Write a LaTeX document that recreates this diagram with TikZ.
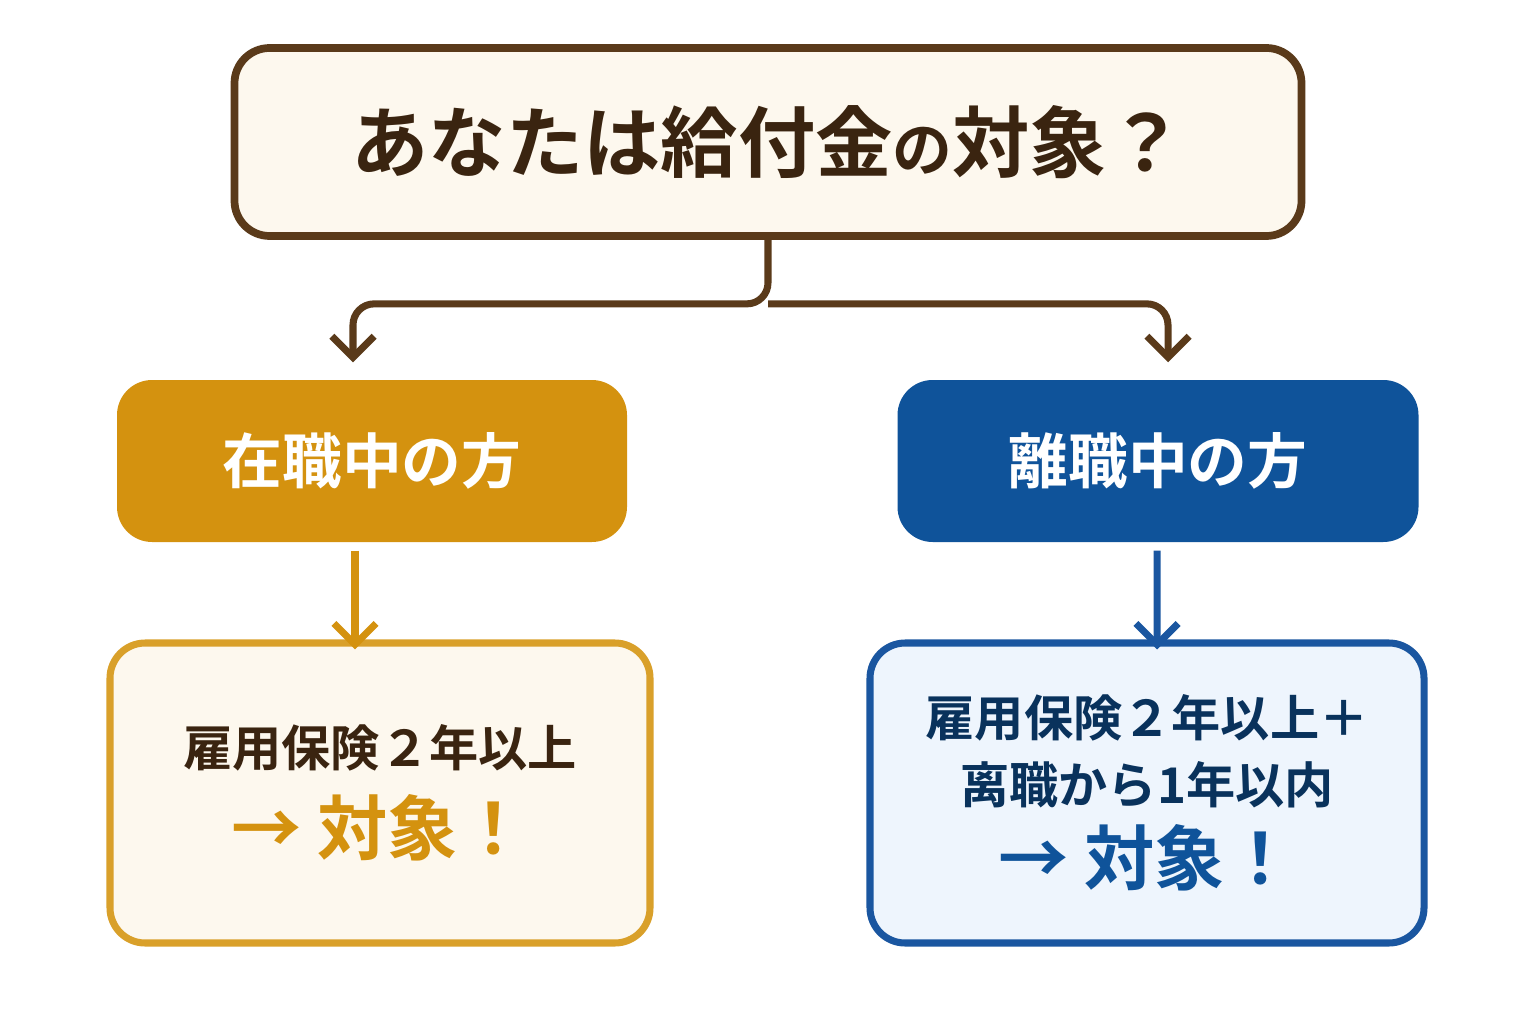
\documentclass[tikz,border=0pt]{standalone}
\usepackage{fontspec}
\newfontfamily\cjk{Noto Sans CJK JP}[BoldFont={Noto Sans CJK JP Bold}]
\usetikzlibrary{positioning,arrows.meta,calc}
\definecolor{brownline}{HTML}{5A3A1A}
\definecolor{cream}{HTML}{FDF8EE}
\definecolor{gold}{HTML}{D4920F}
\definecolor{goldline}{HTML}{D9A02A}
\definecolor{navy}{HTML}{0F539A}
\definecolor{navyline}{HTML}{1A56A0}
\definecolor{paleblue}{HTML}{EEF5FD}
\definecolor{darktext}{HTML}{3A2410}
\tikzset{
  box/.style      = {shape=rectangle, rounded corners=10pt, align=center,
                     font=\cjk\bfseries},
  question/.style = {box, draw=brownline, line width=2.2pt, fill=cream,
                     minimum width=10.67cm, minimum height=1.88cm,
                     text=darktext, font=\cjk\bfseries\fontsize{22}{26}\selectfont},
  status/.style   = {box, minimum width=5.1cm, minimum height=1.62cm, text=white,
                     font=\cjk\bfseries\fontsize{17}{20}\selectfont},
  result/.style   = {box, line width=2pt, minimum width=5.4cm, minimum height=3cm,
                     font=\cjk\bfseries\fontsize{14}{19}\selectfont},
  link/.style     = {draw, line width=2pt, -{Straight Barb[length=6pt,width=12pt]}},
}
\begin{document}
\begin{tikzpicture}
    \useasboundingbox (0,0) rectangle (15.36,10.24);
    \node [question] (ask) at (7.68,8.82)
        {あなたは給付金{\fontsize{17}{20}\selectfont の}対象？};
    \node [status, fill=gold] (working) at (3.72,5.63) {在職中の方};
    \node [status, fill=navy, minimum width=5.21cm] (left) at (11.58,5.63) {離職中の方};
    \node [result, draw=goldline, fill=cream, text=darktext] (okA) at (3.8,2.31)
        {雇用保険２年以上\\[6pt]
         {\color{gold}\fontsize{20}{24}\selectfont → 対象！}};
    \node [result, draw=navyline, fill=paleblue, text=navy!60!black,
           minimum width=5.54cm] (okB) at (11.47,2.31)
        {雇用保険２年以上＋\\离職から1年以内\\[4pt]
         {\color{navy}\fontsize{20}{24}\selectfont → 対象！}};
    % branches
    \coordinate (split) at ($(ask.south)+(0,-0.64)$);
    \draw [link, brownline, rounded corners=6pt, shorten >=2pt]
        (ask.south) -- (split) -| ($(working.north)+(-0.19,0.1)$);
    \draw [link, brownline, rounded corners=6pt, shorten >=2pt]
        (split) -| ($(left.north)+(0.1,0.1)$);
    \draw [link, gold] ($(working.south)+(-0.17,-0.08)$) -- ($(okA.north)+(-0.25,-0.1)$);
    \draw [link, navyline] ($(left.south)+(-0.01,-0.08)$) -- ($(okB.north)+(0.1,-0.1)$);
\end{tikzpicture}
\end{document}
